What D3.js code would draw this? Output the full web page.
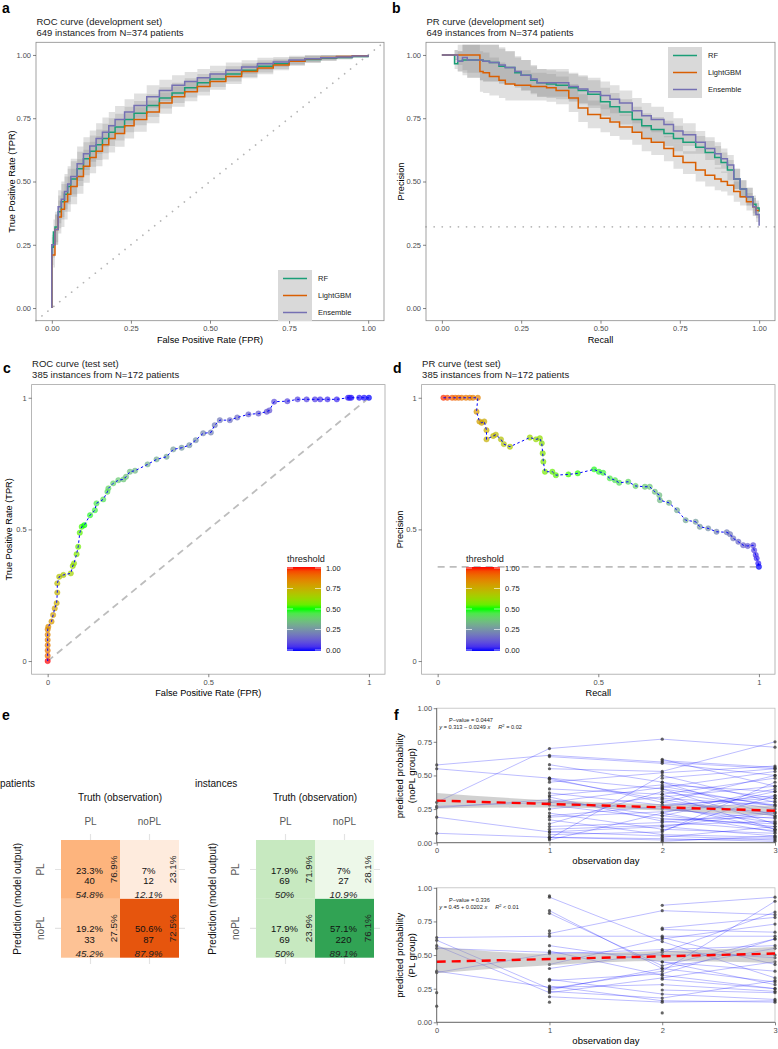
<!DOCTYPE html>
<html><head><meta charset="utf-8">
<script src="https://cdn.jsdelivr.net/npm/d3@7"></script>
<style>body{margin:0;background:#fff} svg{display:block}</style>
</head><body>
<svg id="fig" width="778" height="1049"></svg>
<script>
// ---------------- DATA ----------------
const models = ["RF", "LightGBM", "Ensemble"];
const modelColors = ["#1B9E77", "#D95F02", "#7570B3"];
const unitTicks = [0, 0.25, 0.5, 0.75, 1];

// a: ROC development set
const rocDevFpr = [0,0,0.005,0.01,0.02,0.03,0.04,0.05,0.06,0.08,0.1,0.12,0.14,0.16,0.18,0.2,0.23,0.26,0.3,0.34,0.38,0.42,0.46,0.5,0.55,0.6,0.65,0.7,0.75,0.8,0.85,0.9,0.95,1.0];
const rocDevRF = [0,0.24,0.30,0.32,0.38,0.42,0.45,0.48,0.51,0.55,0.59,0.62,0.645,0.67,0.695,0.715,0.745,0.77,0.80,0.83,0.85,0.87,0.89,0.905,0.925,0.94,0.955,0.965,0.975,0.982,0.987,0.99,0.994,1.0];
const rocDevLGBM = [0,0.21,0.21,0.31,0.36,0.39,0.42,0.45,0.48,0.52,0.56,0.595,0.62,0.645,0.67,0.69,0.72,0.745,0.775,0.81,0.835,0.855,0.875,0.895,0.915,0.935,0.948,0.96,0.975,0.985,0.99,0.994,0.997,1.0];
const rocDevEns = [0,0.25,0.25,0.31,0.40,0.43,0.46,0.49,0.52,0.57,0.61,0.64,0.67,0.695,0.72,0.745,0.775,0.80,0.835,0.86,0.88,0.895,0.91,0.925,0.94,0.952,0.965,0.972,0.98,0.985,0.989,0.992,0.996,1.0];
const rocDevHalf = [0,0.04,0.05,0.06,0.065,0.07,0.07,0.07,0.07,0.068,0.065,0.062,0.06,0.058,0.055,0.053,0.05,0.048,0.045,0.042,0.04,0.038,0.035,0.032,0.03,0.027,0.024,0.02,0.017,0.014,0.011,0.008,0.005,0];

// b: PR development set
const prDevRecall = [0,0.04,0.05,0.065,0.08,0.12,0.13,0.15,0.18,0.2,0.23,0.25,0.28,0.3,0.33,0.36,0.4,0.43,0.46,0.5,0.53,0.56,0.6,0.63,0.66,0.7,0.73,0.76,0.8,0.83,0.86,0.88,0.9,0.92,0.94,0.96,0.98,0.99,1.0,1.0];
const prDevRF = [1,0.965,0.975,0.98,0.98,0.98,0.975,0.97,0.955,0.95,0.93,0.92,0.9,0.89,0.885,0.88,0.87,0.86,0.845,0.815,0.795,0.775,0.745,0.72,0.705,0.69,0.67,0.655,0.635,0.615,0.595,0.575,0.545,0.51,0.47,0.44,0.41,0.395,0.38,0.38];
const prDevLGBM = [1,1,1,1,1,0.935,0.93,0.915,0.9,0.885,0.88,0.88,0.875,0.875,0.87,0.86,0.83,0.79,0.765,0.75,0.735,0.715,0.695,0.67,0.655,0.63,0.60,0.575,0.545,0.525,0.51,0.50,0.485,0.46,0.44,0.42,0.40,0.385,0.385,0.385];
const prDevEns = [1,1,0.975,0.99,0.98,0.98,0.975,0.97,0.96,0.95,0.935,0.92,0.905,0.89,0.89,0.89,0.875,0.865,0.855,0.84,0.825,0.81,0.78,0.76,0.745,0.725,0.70,0.685,0.655,0.63,0.61,0.59,0.565,0.51,0.47,0.44,0.40,0.37,0.37,0.325];
const prDevHalf = [0,0.02,0.04,0.06,0.07,0.08,0.08,0.075,0.07,0.065,0.06,0.06,0.055,0.055,0.055,0.055,0.055,0.055,0.055,0.055,0.055,0.05,0.05,0.05,0.05,0.05,0.05,0.045,0.045,0.045,0.045,0.04,0.04,0.04,0.035,0.035,0.035,0.03,0.03,0.03];
const prDevBaseline = 0.321;

// c: ROC test set
const rocTestFpr = [0,0,0,0,0,0,0,0.002,0.012,0.017,0.022,0.028,0.03,0.03,0.036,0.049,0.072,0.078,0.082,0.09,0.095,0.10,0.106,0.114,0.132,0.147,0.152,0.173,0.186,0.189,0.204,0.22,0.236,0.244,0.256,0.272,0.311,0.339,0.37,0.391,0.417,0.441,0.461,0.484,0.508,0.52,0.536,0.567,0.59,0.625,0.656,0.682,0.69,0.705,0.746,0.778,0.806,0.832,0.848,0.871,0.90,0.935,0.94,0.945,0.97,0.985,1.0];
const rocTestTpr = [0,0.02,0.04,0.06,0.08,0.10,0.12,0.13,0.15,0.175,0.20,0.22,0.26,0.295,0.32,0.327,0.333,0.361,0.371,0.406,0.434,0.487,0.51,0.516,0.554,0.573,0.599,0.614,0.643,0.656,0.675,0.687,0.69,0.70,0.719,0.723,0.747,0.766,0.776,0.804,0.81,0.82,0.839,0.865,0.868,0.896,0.915,0.915,0.925,0.937,0.94,0.947,0.952,0.985,0.987,0.994,0.994,0.994,0.994,0.994,0.994,1,1,1,1,1,1];
const rocTestThr = [1.0,0.9,0.88,0.86,0.85,0.84,0.83,0.82,0.8,0.78,0.77,0.75,0.73,0.71,0.69,0.67,0.64,0.62,0.61,0.58,0.56,0.54,0.52,0.5,0.48,0.46,0.45,0.43,0.42,0.41,0.4,0.38,0.37,0.36,0.35,0.34,0.32,0.31,0.3,0.28,0.27,0.26,0.25,0.23,0.22,0.21,0.2,0.18,0.17,0.15,0.14,0.13,0.12,0.11,0.1,0.09,0.08,0.07,0.06,0.05,0.04,0.03,0.025,0.02,0.015,0.01,0.0];

// d: PR test set
const prTestRecall = [0.018,0.03,0.045,0.055,0.065,0.075,0.088,0.1,0.11,0.125,0.121,0.13,0.137,0.145,0.152,0.152,0.173,0.181,0.197,0.206,0.225,0.287,0.306,0.318,0.324,0.327,0.329,0.334,0.357,0.368,0.407,0.436,0.487,0.502,0.515,0.536,0.552,0.565,0.593,0.616,0.645,0.66,0.676,0.69,0.692,0.72,0.745,0.772,0.803,0.816,0.842,0.868,0.9,0.91,0.92,0.936,0.951,0.965,0.982,0.985,0.99,0.993,0.998,1.0];
const prTestPrec = [1,1,1,1,1,1,1,1,1,1,0.947,0.91,0.905,0.91,0.877,0.842,0.855,0.86,0.842,0.824,0.814,0.849,0.842,0.846,0.827,0.789,0.757,0.719,0.719,0.706,0.709,0.713,0.728,0.719,0.715,0.694,0.687,0.677,0.681,0.665,0.662,0.662,0.643,0.63,0.611,0.601,0.573,0.535,0.529,0.51,0.504,0.491,0.489,0.482,0.466,0.453,0.44,0.437,0.44,0.421,0.403,0.39,0.371,0.358];
const prTestThr = [0.98,0.95,0.93,0.91,0.9,0.89,0.88,0.87,0.86,0.85,0.8,0.78,0.77,0.76,0.75,0.74,0.72,0.71,0.69,0.68,0.67,0.63,0.62,0.61,0.6,0.59,0.58,0.57,0.55,0.54,0.52,0.51,0.49,0.48,0.47,0.45,0.44,0.43,0.41,0.4,0.38,0.37,0.36,0.35,0.34,0.33,0.31,0.3,0.28,0.27,0.25,0.23,0.21,0.2,0.19,0.17,0.15,0.13,0.11,0.09,0.07,0.05,0.03,0.0];
const prTestBaseline = 0.358;
const thrTicks = [0, 0.25, 0.5, 0.75, 1];

// e: confusion matrices
const cmClasses = ["PL", "noPL"];
const cmPred = ["PL", "PL", "noPL", "noPL"];
const cmTruth = ["PL", "noPL", "PL", "noPL"];
const patCount = [40, 12, 33, 87];
const patTotalPct = ["23.3%", "7%", "19.2%", "50.6%"];
const patColPct = ["54.8%", "12.1%", "45.2%", "87.9%"];
const patRowPct = ["76.9%", "23.1%", "27.5%", "72.5%"];
const instCount = [69, 27, 69, 220];
const instTotalPct = ["17.9%", "7%", "17.9%", "57.1%"];
const instColPct = ["50%", "10.9%", "50%", "89.1%"];
const instRowPct = ["71.9%", "28.1%", "23.9%", "76.1%"];

// f: longitudinal predicted probabilities (day 0..3)
const days = [0, 1, 2, 3];
const noplTraj = [
[0.578,0.65,0.60,0.55],[0.55,0.48,0.30,0.22],[0.30,0.70,0.77,0.71],[0.27,0.30,0.25,0.18],
[0.26,0.32,0.20,0.12],[0.19,0.08,0.12,0.05],[0.07,0.04,0.02,0.03],[null,0.64,0.59,0.50],
[null,0.58,0.45,0.33],[null,0.55,0.53,0.75],[null,0.48,0.40,0.28],[null,0.47,0.32,0.20],
[null,0.45,0.52,0.57],[null,0.40,0.36,0.48],[null,0.37,0.28,0.10],[null,0.35,0.43,0.38],
[null,0.34,0.16,0.09],[null,0.30,0.41,0.53],[null,0.28,0.18,0.14],[null,0.25,0.34,0.42],
[null,0.22,0.10,0.07],[null,0.20,0.27,0.35],[null,0.19,0.23,0.31],[null,0.17,0.06,0.04],
[null,0.14,0.38,0.25],[null,0.12,0.15,0.23],[null,0.10,0.13,0.16],[null,0.08,0.05,0.02],
[null,0.06,0.08,0.45],[null,0.04,0.03,0.01],[null,0.03,0.50,0.30],[null,0.02,0.22,0.40],
[null,null,0.62,0.42],[null,null,0.61,0.56],[null,null,0.48,0.55],[null,null,0.45,0.20],
[null,null,0.40,0.14],[null,null,0.30,0.50],[null,null,0.28,0.33],[null,null,0.22,0.08],
[null,null,0.20,0.38],[null,null,0.12,0.22],[null,null,0.04,0.12],[null,null,0.01,0.05],
[null,null,0.33,0.28],[null,null,0.26,0.15],[null,null,0.36,0.10],[null,null,0.42,0.27],
[null,null,0.17,0.19],[null,null,0.09,0.35]
];
const plTraj = [
[0.63,0.64,0.64,0.64],[0.61,0.25,0.38,0.90],[0.57,0.22,0.33,0.45],[0.55,0.52,0.50,0.50],
[0.38,0.26,0.28,0.23],[0.37,0.51,0.54,0.57],[0.22,null,null,null],[0.12,null,null,null],
[null,0.94,null,null],[null,0.93,0.60,0.33],[null,0.83,0.40,0.30],[null,0.81,0.42,0.62],
[null,0.68,null,null],[null,0.66,0.83,0.80],[null,0.57,0.45,0.28],[null,0.53,0.35,0.25],
[null,0.43,0.62,0.73],[null,0.40,0.52,0.82],[null,0.32,0.21,0.17],[null,0.31,0.36,0.62],
[null,0.27,0.16,0.15],[null,0.24,0.40,0.55],[null,0.23,0.18,0.31],[null,0.19,0.15,0.16],
[null,0.15,null,null],[null,null,0.87,0.93],[null,null,0.70,0.78],[null,null,0.69,0.67],
[null,null,0.63,0.43],[null,null,0.53,0.48],[null,null,0.45,0.38],[null,null,0.32,0.25],
[null,null,0.24,0.22],[null,null,0.07,null]
];
const noplFit = [0.313, 0.238];            // fitted value at day 0 and day 3
const noplCILo = [0.255, 0.262, 0.24, 0.20];
const noplCIHi = [0.37, 0.315, 0.285, 0.275];
const plFit = [0.45, 0.511];
const plCILo = [0.364, 0.425, 0.455, 0.44];
const plCIHi = [0.562, 0.51, 0.53, 0.56];

// ---------------- DRAWING ----------------
const FONT = '"Liberation Sans", Arial, Helvetica, sans-serif';
const svg = d3.select("#fig").attr("font-family", FONT);
svg.append("rect").attr("width", 778).attr("height", 1049).attr("fill", "#fff");

function txt(x, y, s, o = {}) {
  const t = svg.append("text").attr("x", x).attr("y", y).text(s)
    .attr("font-size", o.size || 9.5).attr("fill", o.fill || "#1a1a1a")
    .attr("text-anchor", o.anchor || "start");
  if (o.weight) t.attr("font-weight", o.weight);
  if (o.style) t.attr("font-style", o.style);
  if (o.rotate) t.attr("transform", `rotate(${o.rotate},${x},${y})`);
  return t;
}
function styleAxis(g, col) {
  g.select(".domain").remove();
  g.selectAll(".tick line").attr("stroke", "#333").attr("stroke-width", 0.6);
  g.selectAll(".tick text").attr("fill", col || "#4d4d4d").attr("font-size", 7.5).attr("font-family", FONT);
}

// panel letters
txt(2, 13, "a", {size: 14, weight: "bold", fill: "#000"});
txt(392, 13, "b", {size: 14, weight: "bold", fill: "#000"});
txt(3, 373, "c", {size: 14, weight: "bold", fill: "#000"});
txt(393, 373, "d", {size: 14, weight: "bold", fill: "#000"});
txt(2, 720, "e", {size: 14, weight: "bold", fill: "#000"});
txt(394, 720, "f", {size: 14, weight: "bold", fill: "#000"});

// ---- a / b ----
function devPanel(o) {
  const x = d3.scaleLinear().domain([-0.05, 1.05]).range([o.x0, o.x1]);
  const y = d3.scaleLinear().domain([-0.05, 1.05]).range([320.7, 42.3]);
  const g = svg.append("g");
  o.series.forEach(s => {
    const area = d3.area().curve(d3.curveStepAfter)
      .x((d, i) => x(o.grid[i]))
      .y0((d, i) => y(Math.max(0, d - o.half[i])))
      .y1((d, i) => y(Math.min(o.maxY, d + o.half[i])));
    g.append("path").datum(s).attr("d", area).attr("fill", "#8c8c8c").attr("fill-opacity", 0.27);
  });
  if (o.diag) {
    g.append("line").attr("x1", x(-0.05)).attr("y1", y(-0.05)).attr("x2", x(1.05)).attr("y2", y(1.05))
      .attr("stroke", "#b5b5b5").attr("stroke-width", 1.7).attr("stroke-dasharray", "0.1,7.5").attr("stroke-linecap", "round");
  } else {
    g.append("line").attr("x1", x(-0.05)).attr("y1", y(o.base)).attr("x2", x(1.05)).attr("y2", y(o.base))
      .attr("stroke", "#b5b5b5").attr("stroke-width", 1.7).attr("stroke-dasharray", "0.1,8").attr("stroke-linecap", "round");
  }
  o.series.forEach((s, k) => {
    const line = d3.line().curve(d3.curveStepAfter).x((d, i) => x(o.grid[i])).y(d => y(d));
    g.append("path").datum(s).attr("d", line).attr("fill", "none").attr("stroke", modelColors[k]).attr("stroke-width", 1.5);
  });
  g.append("rect").attr("x", o.x0).attr("y", 42.3).attr("width", o.x1 - o.x0).attr("height", 320.7 - 42.3)
    .attr("fill", "none").attr("stroke", "#8a8a8a").attr("stroke-width", 0.8);
  const ax = svg.append("g").attr("transform", "translate(0,320.7)")
    .call(d3.axisBottom(x).tickValues(unitTicks).tickFormat(d3.format(".2f")).tickSize(3).tickPadding(2));
  styleAxis(ax);
  const ay = svg.append("g").attr("transform", `translate(${o.x0},0)`)
    .call(d3.axisLeft(y).tickValues(unitTicks).tickFormat(d3.format(".2f")).tickSize(3).tickPadding(2));
  styleAxis(ay);
  txt(o.x0 + 0.5, 25, o.title, {size: 9.5});
  txt(o.x0 + 0.5, 35.5, "649 instances from N=374 patients", {size: 9.5});
  txt((o.x0 + o.x1) / 2, 343, o.xTitle, {size: 9.2, anchor: "middle", fill: "#000"});
  txt(o.yTitleX, 181.5, o.yTitle, {size: 9.2, anchor: "middle", fill: "#000", rotate: -90});
  const L = o.legend;
  svg.append("rect").attr("x", L.x).attr("y", L.y).attr("width", 34).attr("height", 51).attr("fill", "#d9d9d9");
  models.forEach((m, k) => {
    const yy = L.y + 8.5 + k * 17;
    svg.append("line").attr("x1", L.x + 5).attr("x2", L.x + 29).attr("y1", yy).attr("y2", yy)
      .attr("stroke", modelColors[k]).attr("stroke-width", 1.5);
    txt(L.x + 40, yy + 2.7, m, {size: 7.5});
  });
}
devPanel({x0: 36, x1: 384, grid: rocDevFpr, series: [rocDevRF, rocDevLGBM, rocDevEns], half: rocDevHalf, maxY: 1,
  diag: true, title: "ROC curve (development set)", xTitle: "False Positive Rate (FPR)", yTitle: "True Positive Rate (TPR)",
  yTitleX: 14.5, legend: {x: 278, y: 270}});
devPanel({x0: 426, x1: 775, grid: prDevRecall, series: [prDevRF, prDevLGBM, prDevEns], half: prDevHalf, maxY: 1.04,
  diag: false, base: prDevBaseline, title: "PR curve (development set)", xTitle: "Recall", yTitle: "Precision",
  yTitleX: 403.5, legend: {x: 668, y: 47}});

// ---- c / d ----
const thrColor = d3.scaleLinear().domain([0, 0.5, 1]).range(["#0000FF", "#00FF00", "#FF0000"]).interpolate(d3.interpolateLab);
const defs = svg.append("defs");
const grad = defs.append("linearGradient").attr("id", "thrgrad").attr("x1", 0).attr("y1", 1).attr("x2", 0).attr("y2", 0);
d3.range(0, 1.0001, 0.05).forEach(v => grad.append("stop").attr("offset", v).attr("stop-color", thrColor(v)));

function testPanel(o) {
  const x = d3.scaleLinear().domain([-0.05, 1.05]).range([o.x0, o.x1]);
  const y = d3.scaleLinear().domain([-0.05, 1.05]).range([674.2, 384.6]);
  const g = svg.append("g");
  if (o.diag) {
    g.append("line").attr("x1", x(0)).attr("y1", y(0)).attr("x2", x(1)).attr("y2", y(1))
      .attr("stroke", "#bdbdbd").attr("stroke-width", 1.8).attr("stroke-dasharray", "7,5");
  } else {
    g.append("line").attr("x1", x(0)).attr("y1", y(o.base)).attr("x2", x(1)).attr("y2", y(o.base))
      .attr("stroke", "#bdbdbd").attr("stroke-width", 1.8).attr("stroke-dasharray", "7,5");
  }
  const pts = o.xs.map((v, i) => [v, o.ys[i], o.thr[i]]);
  g.selectAll("circle.p").data(pts).join("circle").attr("cx", d => x(d[0])).attr("cy", d => y(d[1])).attr("r", 2.7)
    .attr("fill", d => thrColor(d[2])).attr("fill-opacity", 0.7)
    .attr("stroke", d => thrColor(d[2])).attr("stroke-opacity", 0.45).attr("stroke-width", 0.8);
  g.append("path").datum(pts).attr("d", d3.line().x(d => x(d[0])).y(d => y(d[1])))
    .attr("fill", "none").attr("stroke", "#0000FF").attr("stroke-width", 1).attr("stroke-dasharray", "2.5,2.5");
  g.append("rect").attr("x", o.x0).attr("y", 384.6).attr("width", o.x1 - o.x0).attr("height", 674.2 - 384.6)
    .attr("fill", "none").attr("stroke", "#a6a6a6").attr("stroke-width", 0.8);
  const fmt = d => d === 0.5 ? "0.5" : String(d);
  const ax = svg.append("g").attr("transform", "translate(0,674.2)")
    .call(d3.axisBottom(x).tickValues([0, 0.5, 1]).tickFormat(fmt).tickSize(3).tickPadding(2));
  styleAxis(ax);
  const ay = svg.append("g").attr("transform", `translate(${o.x0},0)`)
    .call(d3.axisLeft(y).tickValues([0, 0.5, 1]).tickFormat(fmt).tickSize(3).tickPadding(2));
  styleAxis(ay);
  txt(o.x0 + 0.5, 367, o.title, {size: 9.5});
  txt(o.x0 + 0.5, 377.5, "385 instances from N=172 patients", {size: 9.5});
  txt((o.x0 + o.x1) / 2, 695.5, o.xTitle, {size: 9.2, anchor: "middle", fill: "#000"});
  txt(o.yTitleX, 529.4, o.yTitle, {size: 9.2, anchor: "middle", fill: "#000", rotate: -90});
  const cb = o.cbX;
  const cy = d3.scaleLinear().domain([0, 1]).range([650, 568]);
  txt(cb, 561.5, "threshold", {size: 9.2});
  svg.append("rect").attr("x", cb).attr("y", 567).attr("width", 34).attr("height", 84).attr("fill", "url(#thrgrad)");
  thrTicks.forEach(v => {
    svg.append("line").attr("x1", cb).attr("x2", cb + 6).attr("y1", cy(v)).attr("y2", cy(v)).attr("stroke", "#fff").attr("stroke-opacity", 0.8).attr("stroke-width", 0.8);
    svg.append("line").attr("x1", cb + 28).attr("x2", cb + 34).attr("y1", cy(v)).attr("y2", cy(v)).attr("stroke", "#fff").attr("stroke-opacity", 0.8).attr("stroke-width", 0.8);
    txt(cb + 39, cy(v) + 2.7, d3.format(".2f")(v), {size: 7.5});
  });
}
testPanel({x0: 31.6, x1: 385, xs: rocTestFpr, ys: rocTestTpr, thr: rocTestThr, diag: true,
  title: "ROC curve (test set)", xTitle: "False Positive Rate (FPR)", yTitle: "True Positive Rate (TPR)", yTitleX: 12.5, cbX: 287});
testPanel({x0: 421.6, x1: 775, xs: prTestRecall, ys: prTestPrec, thr: prTestThr, diag: false, base: prTestBaseline,
  title: "PR curve (test set)", xTitle: "Recall", yTitle: "Precision", yTitleX: 403, cbX: 466});

// ---- e ----
function confMat(o) {
  const x = d3.scaleBand().domain(cmClasses).range([o.x0, o.x0 + 118]);
  const y = d3.scaleBand().domain(cmClasses).range([840, 957.7]);
  const bw = x.bandwidth();
  const g = svg.append("g");
  cmClasses.forEach(c => {
    g.append("line").attr("x1", x(c) + bw / 2).attr("x2", x(c) + bw / 2).attr("y1", 834).attr("y2", 964)
      .attr("stroke", "#e3e3e3").attr("stroke-width", 1.2);
    g.append("line").attr("y1", y(c) + bw / 2).attr("y2", y(c) + bw / 2).attr("x1", o.x0 - 6).attr("x2", o.x0 + 124)
      .attr("stroke", "#e3e3e3").attr("stroke-width", 1.2);
  });
  cmPred.forEach((p, i) => {
    const t = cmTruth[i];
    const cx = x(t) + bw / 2, cy = y(p) + y.bandwidth() / 2;
    g.append("rect").attr("x", x(t)).attr("y", y(p)).attr("width", bw).attr("height", y.bandwidth())
      .attr("fill", o.fill(o.count[i]));
    txt(cx - 1, cy + 4.2, o.total[i], {size: 9.5, anchor: "middle", fill: "#111"});
    txt(cx - 1, cy + 14.6, String(o.count[i]), {size: 9.5, anchor: "middle", fill: "#111"});
    txt(cx - 1, cy + 28.8, o.col[i], {size: 9.8, anchor: "middle", fill: "#222", style: "italic"});
    txt(cx + 26.5, cy, o.row[i], {size: 9.8, anchor: "middle", fill: "#222", rotate: -90});
  });
  txt(o.lblX, 786.5, o.label, {size: 10, fill: "#111"});
  txt(o.x0 + 59, 800.5, "Truth (observation)", {size: 10, anchor: "middle", fill: "#111"});
  cmClasses.forEach(c => txt(x(c) + bw / 2, 825, c, {size: 10, anchor: "middle", fill: "#595959"}));
  cmClasses.forEach(c => txt(o.x0 - 17, y(c) + y.bandwidth() / 2, c, {size: 10, anchor: "middle", fill: "#595959", rotate: -90}));
  txt(o.x0 - 40, 898.8, "Prediction (model output)", {size: 10, anchor: "middle", fill: "#111", rotate: -90});
}
const orangeFill = d3.scaleLinear().domain([12, 40, 87]).range(["#FEEBDD", "#FDB47D", "#E6550D"]);
const greenFill = d3.scaleLinear().domain([27, 69, 220]).range(["#EDF8E9", "#C7E9C0", "#31A354"]);
confMat({x0: 61, label: "patients", lblX: 0, count: patCount, total: patTotalPct, col: patColPct, row: patRowPct, fill: orangeFill});
confMat({x0: 256, label: "instances", lblX: 195, count: instCount, total: instTotalPct, col: instColPct, row: instRowPct, fill: greenFill});

// ---- f ----
function longPanel(o) {
  const x = d3.scaleLinear().domain([0, 3]).range([436.7, 775]);
  const y = d3.scaleLinear().domain([0, 1]).range([o.y1, o.y1 - 134.5]);
  const g = svg.append("g");
  g.append("rect").attr("x", 436.7).attr("y", o.y1 - 134.5).attr("width", 775 - 436.7).attr("height", 134.5)
    .attr("fill", "none").attr("stroke", "#bfbfbf").attr("stroke-width", 0.8);
  o.traj.forEach(tr => {
    const pts = tr.map((v, i) => [days[i], v]).filter(p => p[1] != null);
    if (pts.length > 1) g.append("path").datum(pts).attr("d", d3.line().x(p => x(p[0])).y(p => y(p[1])))
      .attr("fill", "none").attr("stroke", "#0000FF").attr("stroke-opacity", 0.38).attr("stroke-width", 0.7);
  });
  o.traj.forEach(tr => tr.forEach((v, i) => {
    if (v != null) g.append("circle").attr("cx", x(days[i])).attr("cy", y(v)).attr("r", 1.6).attr("fill", "#333").attr("fill-opacity", 0.75);
  }));
  g.append("path").datum(days).attr("d", d3.area().curve(d3.curveMonotoneX).x(d => x(d)).y0((d, i) => y(o.lo[i])).y1((d, i) => y(o.hi[i])))
    .attr("fill", "#999").attr("fill-opacity", 0.45);
  g.append("line").attr("x1", x(0)).attr("x2", x(3)).attr("y1", y(o.fit[0])).attr("y2", y(o.fit[1]))
    .attr("stroke", "#FF0000").attr("stroke-width", 2.4).attr("stroke-dasharray", "9,6");
  const ax = svg.append("g").attr("transform", `translate(0,${o.y1})`)
    .call(d3.axisBottom(x).tickValues(days).tickFormat(d3.format("d")).tickSize(3).tickPadding(2));
  styleAxis(ax);
  const ay = svg.append("g").attr("transform", "translate(436.7,0)")
    .call(d3.axisLeft(y).tickValues(unitTicks).tickFormat(d3.format(".2f")).tickSize(3).tickPadding(1.5));
  styleAxis(ay);
  svg.append("line").attr("x1", 436.7).attr("x2", 436.7).attr("y1", o.y1 - 134.5).attr("y2", o.y1).attr("stroke", "#555").attr("stroke-width", 0.8);
  svg.append("line").attr("x1", 436.7).attr("x2", 775).attr("y1", o.y1).attr("y2", o.y1).attr("stroke", "#555").attr("stroke-width", 0.8);
  txt(605.9, o.y1 + 21.5, "observation day", {size: 9.5, anchor: "middle", fill: "#000"});
  txt(403.5, o.y1 - 67, "predicted probability", {size: 9.5, anchor: "middle", fill: "#000", rotate: -90});
  txt(415.5, o.y1 - 67, o.group, {size: 9.5, anchor: "middle", fill: "#000", rotate: -90});
  const ty = o.y1 - 134.5;
  txt(449, ty + 14, o.pval, {size: 5.6, fill: "#222"});
  const t2 = svg.append("text").attr("x", 439.3).attr("y", ty + 20.8).attr("font-size", 5.6).attr("fill", "#222");
  t2.append("tspan").attr("font-style", "italic").text("y");
  t2.append("tspan").text(o.eq);
  t2.append("tspan").attr("font-style", "italic").text("x");
  t2.append("tspan").attr("dx", 8).attr("font-style", "italic").text("R");
  t2.append("tspan").attr("dy", -2).attr("font-size", 4).text("2");
  t2.append("tspan").attr("dy", 2).text(o.r2);
}
longPanel({y1: 842.7, traj: noplTraj, fit: noplFit, lo: noplCILo, hi: noplCIHi, group: "(noPL group)",
  pval: "P\u2212value = 0.0447", eq: " = 0.313 \u2212 0.0249 ", r2: " = 0.02"});
longPanel({y1: 1022.3, traj: plTraj, fit: plFit, lo: plCILo, hi: plCIHi, group: "(PL group)",
  pval: "P\u2212value = 0.336", eq: " = 0.45 + 0.0202 ", r2: " < 0.01"});
</script>
</body></html>
